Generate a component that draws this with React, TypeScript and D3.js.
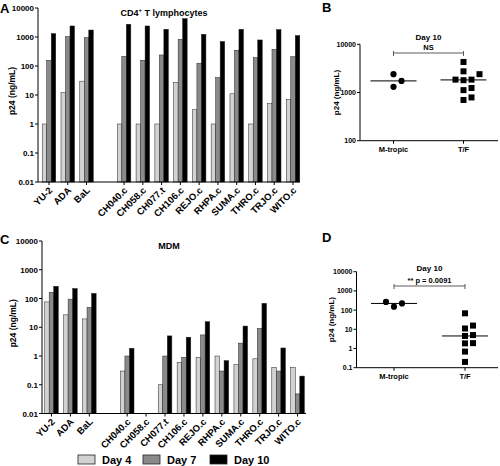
import React from "react";
import * as d3 from "d3";

// ---------- DATA ----------
const referenceStrains = ["YU-2", "ADA", "BaL"];
const tfStrains = ["CH040.c", "CH058.c", "CH077.t", "CH106.c", "REJO.c", "RHPA.c", "SUMA.c", "THRO.c", "TRJO.c", "WITO.c"];
const seriesNames = ["Day 4", "Day 7", "Day 10"];
const seriesColors = ["#d2d2d2", "#8a8a8a", "#000000"];
const groupNames = ["M-tropic", "T/F"];

// CD4+ T lymphocytes, p24 ng/mL (reference strains then T/F strains)
const cd4Day4 = [1, 12, 30, 1, 1, 1, 27, 3.1, 1, 11, 1, 5, 6.9];
const cd4Day7 = [158, 1030, 950, 215, 158, 240, 830, 125, 40, 350, 195, 375, 210];
const cd4Day10 = [1310, 2400, 1740, 2750, 2400, 1850, 4300, 1240, 700, 1850, 790, 1800, 1120];

// MDM, p24 ng/mL (null = not detected)
const mdmDay4 = [76, 27, 19.5, 0.3, null, 0.1, 0.6, 0.9, 1.0, 0.5, 0.8, 0.4, 0.4];
const mdmDay7 = [165, 95, 49, 1.0, null, 1.0, 0.9, 5.4, 0.3, 2.8, 9.1, 0.3, 0.048];
const mdmDay10 = [265, 222, 150, 1.85, null, 5, 4.5, 15.6, 0.69, 11, 68, 1.9, 0.2];

const barTicks = [0.01, 0.1, 1, 10, 100, 1000, 10000];
const bTicks = [100, 1000, 10000];
const dTicks = [0.1, 1, 10, 100, 1000, 10000];
const pLabelB = "NS";
const pLabelD = "** p = 0.0091";

const FONT = "'Liberation Sans', Arial, Helvetica, sans-serif";
const SPACER = "__gap__";

type Num = number | null;

function BarPanel(props: {
  series: Num[][];
  x0: number; x1: number; bandX0: number; bandX1: number;
  yTop: number; yBot: number;
  title: React.ReactNode; titleY: number;
  yLabelX: number;
}) {
  const { series, x0, x1, bandX0, bandX1, yTop, yBot } = props;
  const domain = [...referenceStrains, SPACER, ...tfStrains];
  const values = (s: Num[]) => {
    const m = new Map<string, Num>();
    referenceStrains.forEach((c, i) => m.set(c, s[i]));
    tfStrains.forEach((c, i) => m.set(c, s[referenceStrains.length + i]));
    return m;
  };
  const x = d3.scaleBand<string>().domain(domain).range([bandX0, bandX1]).paddingInner(0.28).paddingOuter(0.14);
  const xi = d3.scaleBand<number>().domain([0, 1, 2]).range([0, x.bandwidth()]);
  const y = d3.scaleLog().domain([0.01, 10000]).range([yBot, yTop]);
  const cats = domain.filter((d) => d !== SPACER);
  return (
    <g>
      {series.map((s, si) => {
        const m = values(s);
        return cats.map((c) => {
          const v = m.get(c);
          if (v == null || v <= 0.01) return null;
          const bx = (x(c) as number) + (xi(si) as number);
          return (
            <rect key={c + si} x={bx} y={y(v)} width={xi.bandwidth()} height={yBot - y(v)}
              fill={seriesColors[si]} stroke="#222" strokeWidth={0.5} />
          );
        });
      })}
      <line x1={x0} x2={x0} y1={yTop} y2={yBot} stroke="#000" strokeWidth={1} />
      <line x1={x0} x2={x1} y1={yBot} y2={yBot} stroke="#000" strokeWidth={1} />
      {barTicks.map((t) => (
        <g key={t}>
          <line x1={x0 - 3} x2={x0} y1={y(t)} y2={y(t)} stroke="#000" />
          <text x={x0 - 4} y={y(t) + 3} textAnchor="end" fontSize={8} fontWeight="bold" fontFamily={FONT}>{String(t)}</text>
        </g>
      ))}
      {cats.map((c) => {
        const cx = (x(c) as number) + x.bandwidth() / 2;
        return (
          <g key={c}>
            <line x1={cx} x2={cx} y1={yBot} y2={yBot + 3} stroke="#000" />
            <text transform={`translate(${cx + 4},${yBot + 9}) rotate(-45)`} textAnchor="end"
              fontSize={9.5} fontWeight="bold" fontFamily={FONT}>{c}</text>
          </g>
        );
      })}
      <text transform={`translate(${props.yLabelX},${(yTop + yBot) / 2 - 4}) rotate(-90)`} textAnchor="middle"
        fontSize={8.5} fontWeight="bold" fontFamily={FONT}>p24 (ng/mL)</text>
      <text x={(x0 + x1) / 2 - 5} y={props.titleY} textAnchor="middle" fontSize={9} fontWeight="bold" fontFamily={FONT}>{props.title}</text>
    </g>
  );
}

function beeswarm(vals: number[], y: (v: number) => number, step: number, minDist: number) {
  const order = vals.map((_, i) => i).sort((a, b) => vals[a] - vals[b]);
  const placed: { o: number; y: number }[] = [];
  const offs = new Array(vals.length).fill(0);
  for (const i of order) {
    const yi = y(vals[i]);
    for (let k = 0; k < 30; k++) {
      const o = k === 0 ? 0 : (k % 2 === 1 ? 1 : -1) * Math.ceil(k / 2) * step;
      if (placed.every((p) => (p.o - o) ** 2 + (p.y - yi) ** 2 >= minDist * minDist)) {
        offs[i] = o;
        placed.push({ o, y: yi });
        break;
      }
    }
  }
  return offs;
}

function ScatterPanel(props: {
  day10: Num[]; ticks: number[]; axisX: number; axisX1: number;
  catX: [number, number]; yTop: number; yBot: number;
  titleY: number; bracketY: number; pLabel: string; yLabelX: number;
}) {
  const { axisX, axisX1, yTop, yBot, ticks } = props;
  const y = d3.scaleLog().domain([ticks[0], ticks[ticks.length - 1]]).range([yBot, yTop]);
  const x = d3.scalePoint<string>().domain(groupNames).range(props.catX);
  const groups = [
    props.day10.slice(0, referenceStrains.length).filter((v): v is number => v != null),
    props.day10.slice(referenceStrains.length).filter((v): v is number => v != null),
  ];
  const x0 = x(groupNames[0]) as number;
  const x1g = x(groupNames[1]) as number;
  return (
    <g>
      <line x1={axisX} x2={axisX} y1={yTop} y2={yBot} stroke="#000" />
      <line x1={axisX} x2={axisX1} y1={yBot} y2={yBot} stroke="#000" />
      {ticks.map((t) => (
        <g key={t}>
          <line x1={axisX - 3} x2={axisX} y1={y(t)} y2={y(t)} stroke="#000" />
          <text x={axisX - 4} y={y(t) + 2.5} textAnchor="end" fontSize={7} fontWeight="bold" fontFamily={FONT}>{String(t)}</text>
        </g>
      ))}
      {groupNames.map((g) => (
        <g key={g}>
          <line x1={x(g)} x2={x(g)} y1={yBot} y2={yBot + 3} stroke="#000" />
          <text x={x(g)} y={yBot + 11} textAnchor="middle" fontSize={7.5} fontWeight="bold" fontFamily={FONT}>{g}</text>
        </g>
      ))}
      {groups.map((vals, gi) => {
        const cx = x(groupNames[gi]) as number;
        const offs = beeswarm(vals, y, 8, 7);
        const med = d3.median(vals) as number;
        return (
          <g key={gi}>
            {vals.map((v, i) =>
              gi === 0 ? (
                <circle key={i} cx={cx + offs[i]} cy={y(v)} r={3.1} fill="#000" />
              ) : (
                <rect key={i} x={cx + offs[i] - 3} y={y(v) - 3} width={6} height={6} fill="#000" />
              )
            )}
            <line x1={cx - 23} x2={cx + 23} y1={y(med)} y2={y(med)} stroke="#000" strokeWidth={1} />
          </g>
        );
      })}
      <line x1={x0} x2={x1g} y1={props.bracketY} y2={props.bracketY} stroke="#333" strokeWidth={0.8} />
      <line x1={x0} x2={x0} y1={props.bracketY - 2} y2={props.bracketY + 3} stroke="#333" strokeWidth={0.8} />
      <line x1={x1g} x2={x1g} y1={props.bracketY - 2} y2={props.bracketY + 3} stroke="#333" strokeWidth={0.8} />
      <text x={(x0 + x1g) / 2} y={props.bracketY - 3} textAnchor="middle" fontSize={7.5} fontWeight="bold" fontFamily={FONT}>{props.pLabel}</text>
      <text x={(x0 + x1g) / 2} y={props.titleY} textAnchor="middle" fontSize={8} fontWeight="bold" fontFamily={FONT}>Day 10</text>
      <text transform={`translate(${props.yLabelX},${(yTop + yBot) / 2}) rotate(-90)`} textAnchor="middle"
        fontSize={8} fontWeight="bold" fontFamily={FONT}>p24 (ng/mL)</text>
    </g>
  );
}

export default function App() {
  return (
    <svg width={500} height={466} style={{ position: "absolute", left: 0, top: 0, background: "#fff" }}>
      <rect width={500} height={466} fill="#fff" />
      <text x={0} y={13} fontSize={13} fontWeight="bold" fontFamily={FONT}>A</text>
      <text x={322} y={12} fontSize={13} fontWeight="bold" fontFamily={FONT}>B</text>
      <text x={0} y={244} fontSize={13} fontWeight="bold" fontFamily={FONT}>C</text>
      <text x={322} y={242} fontSize={13} fontWeight="bold" fontFamily={FONT}>D</text>

      <BarPanel series={[cd4Day4, cd4Day7, cd4Day10]} x0={38} x1={300} bandX0={39.6} bandX1={302.4}
        yTop={8} yBot={182}
        title={<>CD4<tspan fontSize={6} dy={-4}>+</tspan><tspan dy={4}> T lymphocytes</tspan></>}
        titleY={16} yLabelX={15} />

      <BarPanel series={[mdmDay4, mdmDay7, mdmDay10]} x0={42} x1={306} bandX0={42} bandX1={307}
        yTop={241} yBot={413.5} title="MDM" titleY={249} yLabelX={16} />

      <ScatterPanel day10={cd4Day10} ticks={bTicks} axisX={360} axisX1={498} catX={[393.5, 463.5]}
        yTop={44.3} yBot={140.7} titleY={40} bracketY={53} pLabel={pLabelB} yLabelX={339} />

      <ScatterPanel day10={mdmDay10} ticks={dTicks} axisX={356.5} axisX1={498} catX={[394, 465]}
        yTop={271.7} yBot={367.7} titleY={271} bracketY={286} pLabel={pLabelD} yLabelX={334} />

      {seriesNames.map((s, i) => {
        const lx = [78, 143, 210][i];
        return (
          <g key={s}>
            <rect x={lx} y={455} width={17} height={9} fill={seriesColors[i]} stroke="#222" strokeWidth={0.8} />
            <text x={lx + 24} y={464} fontSize={11} fontWeight="bold" fontFamily={FONT}>{s}</text>
          </g>
        );
      })}
    </svg>
  );
}
